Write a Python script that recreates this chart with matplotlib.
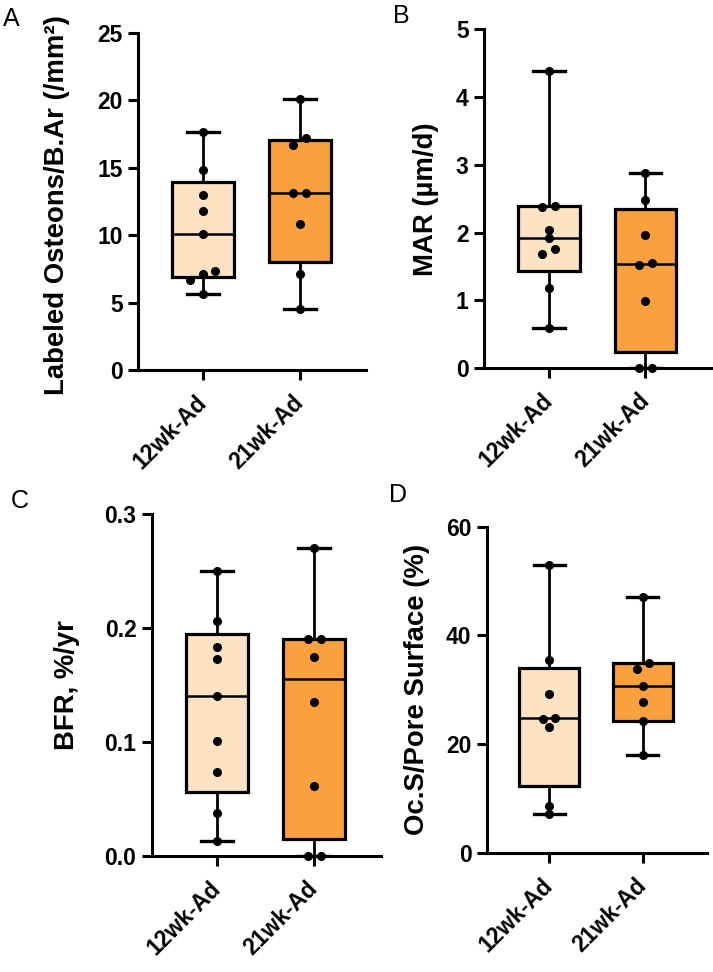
import numpy as np
import matplotlib
matplotlib.use("Agg")
import matplotlib.pyplot as plt

plt.rcParams["font.family"] = ["Liberation Sans", "DejaVu Sans"]
plt.rcParams["font.weight"] = "bold"

# ---- data ----
groups = ["12wk-Ad", "21wk-Ad"]

osteons_12 = [17.6, 14.8, 13.0, 11.8, 10.1, 7.3, 7.1, 6.7, 5.6]
osteons_21 = [20.1, 17.2, 16.7, 13.1, 13.1, 10.8, 7.1, 4.5]

mar_12 = [4.38, 2.40, 2.38, 2.04, 1.92, 1.76, 1.69, 1.19, 0.59]
mar_21 = [2.88, 2.48, 1.96, 1.55, 1.53, 0.99, 0.0, 0.0]

bfr_12 = [0.250, 0.206, 0.183, 0.173, 0.140, 0.101, 0.074, 0.038, 0.013]
bfr_21 = [0.270, 0.190, 0.190, 0.175, 0.135, 0.061, 0.0, 0.0]

ocs_12 = [53.0, 35.5, 29.3, 24.8, 24.7, 23.2, 8.6, 7.2]
ocs_21 = [47.0, 35.0, 33.8, 30.6, 27.7, 24.2, 18.0]

box_colours = ["#FDE2C4", "#F9A13F"]

panels = [
    ("A", osteons_12, osteons_21, "Labeled Osteons/B.Ar (/mm\u00b2)", 25, 5, "%d",
     [0.1936, 0.6193, 0.3198, 0.3472], (-0.298, 0.49), (0.004, 0.993)),
    ("B", mar_12, mar_21, "MAR (\u00b5m/d)", 5, 1, "%d",
     [0.6788, 0.6211, 0.3194, 0.3488], (-0.198, 0.50), (0.551, 0.996)),
    ("C", bfr_12, bfr_21, "BFR, %/yr", 0.3, 0.1, "%.1f",
     [0.2128, 0.1193, 0.3216, 0.3519], (-0.313, 0.50), (0.015, 0.497)),
    ("D", ocs_12, ocs_21, "Oc.S/Pore Surface (%)", 60, 20, "%d",
     [0.6826, 0.1227, 0.3086, 0.3354], (-0.258, 0.50), (0.546, 0.503)),
]


def box_stats(vals):
    # Prism-style quartiles, whiskers min to max
    q1, med, q3 = np.percentile(vals, [25, 50, 75], method="weibull")
    return dict(med=med, q1=q1, q3=q3, whislo=min(vals), whishi=max(vals), fliers=[])


def spread(vals, tol, step=0.13):
    """Spread points with nearly equal values side by side."""
    vals = np.asarray(vals, dtype=float)
    order = np.argsort(vals)
    offsets = np.zeros(len(vals))
    clusters, current = [], [order[0]]
    for i in order[1:]:
        if vals[i] - vals[current[-1]] < tol:
            current.append(i)
        else:
            clusters.append(current)
            current = [i]
    clusters.append(current)
    for c in clusters:
        k = len(c)
        for j, idx in enumerate(c):
            offsets[idx] = (j - (k - 1) / 2) * step
    return offsets


fig = plt.figure(figsize=(7.13, 9.72), dpi=100)

for letter, d12, d21, ylabel, ymax, ystep, fmt, pos, lab_xy, let_xy in panels:
    ax = fig.add_axes(pos)
    data = [d12, d21]

    bp = ax.bxp([box_stats(d) for d in data], positions=[0, 1], widths=0.64,
                patch_artist=True, showfliers=False, capwidths=0.33,
                boxprops=dict(linewidth=2.3, edgecolor="black"),
                whiskerprops=dict(linewidth=2.0, color="black"),
                capprops=dict(linewidth=2.4, color="black"),
                medianprops=dict(linewidth=1.8, color="black"))
    for patch, col in zip(bp["boxes"], box_colours):
        patch.set_facecolor(col)

    for i, d in enumerate(data):
        xs = i + spread(d, tol=0.021 * ymax)
        ax.plot(xs, d, "o", color="black", markersize=5.5, zorder=5, clip_on=False)

    ax.set_xlim(-0.67, 1.685)
    ax.set_ylim(0, ymax)
    ax.set_yticks(np.arange(0, ymax + ystep / 2, ystep))
    ax.yaxis.set_major_formatter(plt.FormatStrFormatter(fmt))
    ax.set_xticks([0, 1])
    ax.set_xticklabels(groups, rotation=45, ha="right", va="center",
                       rotation_mode="anchor", fontsize=18.5)

    for side in ["top", "right"]:
        ax.spines[side].set_visible(False)
    for side in ["left", "bottom"]:
        ax.spines[side].set_linewidth(2.2)
    ax.tick_params(axis="both", direction="out", length=7, width=2.2,
                   labelsize=16.5, pad=4)
    ax.tick_params(axis="x", pad=14)

    ax.set_ylabel(ylabel, fontsize=19.8, fontweight="bold")
    ax.yaxis.set_label_coords(*lab_xy)

    fig.text(let_xy[0], let_xy[1], letter, fontsize=18, fontweight="normal",
             ha="left", va="top")

fig.savefig("out.png", dpi=100)
